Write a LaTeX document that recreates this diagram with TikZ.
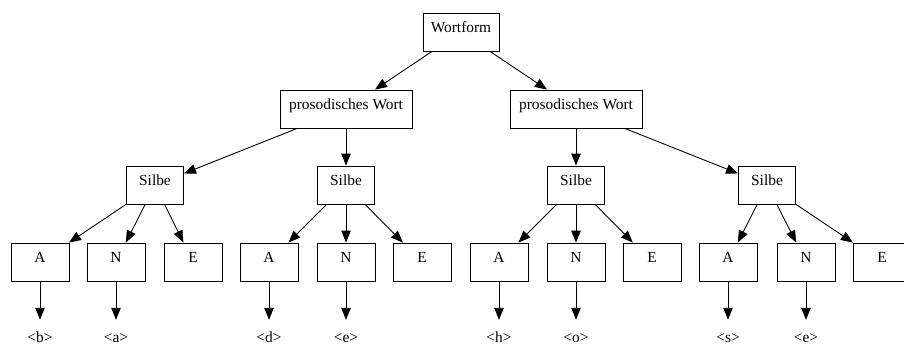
\documentclass[tikz,border=0pt]{standalone}
\usepackage{fontspec}
\setmainfont{Liberation Serif}
\usetikzlibrary{arrows.meta}

\tikzset{
  box/.style={draw, line width=0.9pt, inner sep=0pt, minimum height=38pt,
    text height=10pt, text depth=10pt, font=\fontsize{15.4}{18}\selectfont},
  leaf/.style={inner sep=0pt, minimum height=38pt, minimum width=30pt,
    text height=13pt, text depth=7pt, font=\fontsize{15.4}{18}\selectfont},
  arr/.style={draw, line width=0.9pt, -{Triangle[length=12pt, width=9.5pt]}}
}

\begin{document}
\begin{tikzpicture}[x=1pt, y=-1pt]
\def \ya{32};
\def \yb{109};
\def \yc{185};
\def \yd{262};
\def \ye{339};

\def \wtop{76};
\def \wword{132};
\def \wsyl{57};
\def \wleaf{58};

\useasboundingbox (0,0) rectangle (904,359);

% top
\node [box, minimum width=\wtop] (wf) at (461, \ya) {Wortform};
\node [box, minimum width=\wword] (pwl) at (346, \yb) {prosodisches Wort};
\node [box, minimum width=\wword] (pwr) at (576, \yb) {prosodisches Wort};

% syllables
\node [box, minimum width=\wsyl] (sa) at (155, \yc) {Silbe};
\node [box, minimum width=\wsyl] (sb) at (346, \yc) {Silbe};
\node [box, minimum width=\wsyl] (sc) at (576, \yc) {Silbe};
\node [box, minimum width=\wsyl] (sd) at (767, \yc) {Silbe};

% A N E
\node [box, minimum width=\wleaf] (aa) at (40, \yd) {A};
\node [box, minimum width=\wleaf] (na) at (116, \yd) {N};
\node [box, minimum width=\wleaf] (ea) at (193, \yd) {E};
\node [box, minimum width=\wleaf] (ab) at (269, \yd) {A};
\node [box, minimum width=\wleaf] (nb) at (346, \yd) {N};
\node [box, minimum width=\wleaf] (eb) at (422, \yd) {E};
\node [box, minimum width=\wleaf] (ac) at (499, \yd) {A};
\node [box, minimum width=\wleaf] (nc) at (576, \yd) {N};
\node [box, minimum width=\wleaf] (ec) at (652, \yd) {E};
\node [box, minimum width=\wleaf] (ad) at (728, \yd) {A};
\node [box, minimum width=\wleaf] (nd) at (806, \yd) {N};
\node [box, minimum width=\wleaf] (ed) at (882, \yd) {E};

% letters
\node [leaf] (laa) at (40, \ye) {<b>};
\node [leaf] (lna) at (116, \ye) {<a>};
\node [leaf] (lab) at (269, \ye) {<d>};
\node [leaf] (lnb) at (346, \ye) {<e>};
\node [leaf] (lac) at (499, \ye) {<h>};
\node [leaf] (lnc) at (576, \ye) {<o>};
\node [leaf] (lad) at (728, \ye) {<s>};
\node [leaf] (lnd) at (806, \ye) {<e>};

\path [arr] (wf) -- (pwl);
\path [arr] (wf) -- (pwr);

\path [arr] (pwl) -- (sa);
\path [arr] (pwl) -- (sb);
\path [arr] (pwr) -- (sc);
\path [arr] (pwr) -- (sd);

\path [arr] (sa) -- (aa);
\path [arr] (sa) -- (na);
\path [arr] (sa) -- (ea);
\path [arr] (sb) -- (ab);
\path [arr] (sb) -- (nb);
\path [arr] (sb) -- (eb);
\path [arr] (sc) -- (ac);
\path [arr] (sc) -- (nc);
\path [arr] (sc) -- (ec);
\path [arr] (sd) -- (ad);
\path [arr] (sd) -- (nd);
\path [arr] (sd) -- (ed);

\path [arr] (aa) -- (laa);
\path [arr] (na) -- (lna);
\path [arr] (ab) -- (lab);
\path [arr] (nb) -- (lnb);
\path [arr] (ac) -- (lac);
\path [arr] (nc) -- (lnc);
\path [arr] (ad) -- (lad);
\path [arr] (nd) -- (lnd);

\end{tikzpicture}
\end{document}
